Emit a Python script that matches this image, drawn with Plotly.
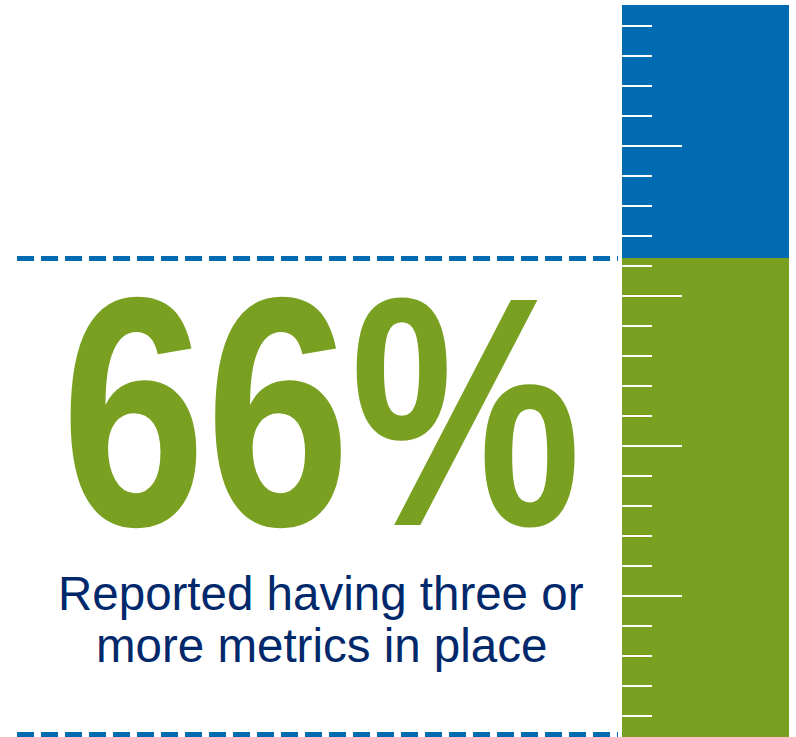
import plotly.graph_objects as go

# ---- data ----
category = ["metrics"]
share_value = [66]                      # percent reporting three or more metrics
rest_value = [100 - share_value[0]]     # remainder of the 100% bar
share_label = "66%"
caption_lines = ["Reported having three or", "more metrics in place"]

# ---- style ----
BLUE = "#006BB1"
GREEN = "#7AA021"
NAVY = "#00286B"
W, H = 796, 737

fig = go.Figure()
fig.add_bar(x=category, y=share_value, marker=dict(color=GREEN, line_width=0),
            width=1, hoverinfo="skip", showlegend=False)
fig.add_bar(x=category, y=rest_value, marker=dict(color=BLUE, line_width=0),
            width=1, hoverinfo="skip", showlegend=False)
# invisible trace carrying the ruler axis
fig.add_scatter(x=category, y=[50], yaxis="y2", mode="markers",
                marker=dict(opacity=0), hoverinfo="skip", showlegend=False)

fig.update_layout(
    width=W, height=H,
    margin=dict(l=0, r=0, t=0, b=0),
    paper_bgcolor="white", plot_bgcolor="white",
    barmode="stack", bargap=0,
    showlegend=False,
    xaxis=dict(domain=[622 / W, 789 / W], range=[-0.5, 0.5], visible=False,
               fixedrange=True),
    yaxis=dict(domain=[0, 1], range=[1.82, 100.67], visible=False, fixedrange=True),
    yaxis2=dict(overlaying="y", anchor="x", side="left", range=[1.2, 99.47],
                tick0=0, dtick=20, ticks="inside", ticklen=60, tickwidth=2,
                tickcolor="white", showticklabels=False, showgrid=False,
                zeroline=False, showline=False, fixedrange=True,
                minor=dict(tick0=0, dtick=4, ticks="inside", ticklen=30,
                           tickwidth=2, tickcolor="white", showgrid=False)),
    shapes=[
        dict(type="line", xref="paper", yref="y", x0=17 / W, x1=618 / W,
             y0=share_value[0], y1=share_value[0],
             line=dict(color=BLUE, width=5, dash="17px,7px")),
        dict(type="line", xref="paper", yref="paper", x0=17 / W, x1=618 / W,
             y0=1 - 734.5 / H, y1=1 - 734.5 / H,
             line=dict(color=BLUE, width=5, dash="17px,7px")),
    ],
    annotations=[
        dict(text="<b>%s</b>" % share_label, xref="paper", yref="paper",
             x=320.5 / W, y=1 - 411.5 / H, xanchor="center", yanchor="middle",
             showarrow=False,
             font=dict(family="Liberation Sans Narrow, Arial Narrow, Liberation Sans, Arial",
                       size=327, color=GREEN)),
        dict(text=caption_lines[0], xref="paper", yref="paper",
             x=321 / W, y=1 - 593.5 / H, xanchor="center", yanchor="middle",
             showarrow=False,
             font=dict(family="Liberation Sans, Arial", size=47.5, color=NAVY)),
        dict(text=caption_lines[1], xref="paper", yref="paper",
             x=321 / W, y=1 - 645 / H, xanchor="center", yanchor="middle",
             showarrow=False,
             font=dict(family="Liberation Sans, Arial", size=47.5, color=NAVY)),
    ],
)

# condense the big figure horizontally (narrow bold typeface look)
post = """
var gd = document.getElementById('{plot_id}');
var t = gd.querySelector('.annotation[data-index="0"] text.annotation-text');
if (t) {
  var bb = t.getBBox();
  var cx = bb.x + bb.width / 2;
  t.setAttribute('transform', 'translate(' + cx + ',0) scale(0.795,1) translate(' + (-cx) + ',0)');
}
"""

fig.write_html("out.html", config={"displayModeBar": False, "staticPlot": True},
               post_script=post)
